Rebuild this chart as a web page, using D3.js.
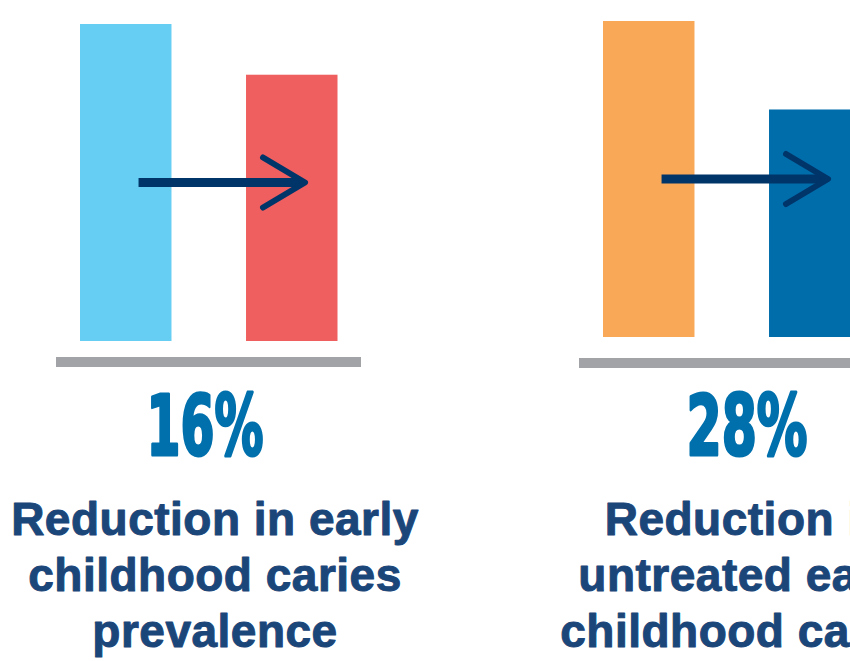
<!DOCTYPE html>
<html><head><meta charset="utf-8">
<script src="https://cdn.jsdelivr.net/npm/d3@7/dist/d3.min.js"></script>
<style>html,body{margin:0;padding:0;background:#fff;overflow:hidden}</style>
</head><body>
<svg id="chart" width="850" height="661"></svg>
<script>
// ---- data ----
const categories = ["before", "after"];
const panelNames = ["prevalence", "untreated"];
const beforeValues = [100, 100];
const afterValues = [84, 72];
const reductionLabels = ["16%", "28%"];
const labelLines = [
  ["Reduction in early", "childhood caries", "prevalence"],
  ["Reduction in", "untreated early", "childhood caries"]
];

// ---- styles / layout ----
const barColors = [["#66cef3", "#f05f5f"], ["#f9a857", "#006dab"]];
const layout = [
  {x: 56, top: 24, bottom: 341, baseY: 357, pctX: 205, pctW: 117, labelX: 215},
  {x: 579, top: 21, bottom: 337, baseY: 358, pctX: 747, pctW: 121, labelX: 747}
];
const baseWidth = 305;

const svg = d3.select("#chart");

panelNames.forEach((name, i) => {
  const L = layout[i];
  const g = svg.append("g").attr("transform", `translate(${L.x},0)`);
  const x = d3.scaleBand().domain(categories).range([24, 281.5]).paddingInner(0.449).paddingOuter(0);
  const y = d3.scaleLinear().domain([0, 100]).range([L.bottom, L.top]);
  const vals = [beforeValues[i], afterValues[i]];

  g.selectAll("rect.bar").data(categories).enter().append("rect")
    .attr("class", "bar")
    .attr("x", d => x(d))
    .attr("width", x.bandwidth())
    .attr("y", (d, j) => y(vals[j]))
    .attr("height", (d, j) => y(0) - y(vals[j]))
    .attr("fill", (d, j) => barColors[i][j]);

  // baseline
  g.append("rect").attr("x", 0).attr("y", L.baseY).attr("width", baseWidth).attr("height", 10)
    .attr("fill", "#a2a3a7");

  // arrow
  const ay = y(50);
  const x0 = x("before") + 0.64 * x.bandwidth();
  const x1 = x("after") + 0.645 * x.bandwidth();
  g.append("line").attr("x1", x0).attr("x2", x1 - 4).attr("y1", ay).attr("y2", ay)
    .attr("stroke", "#00356a").attr("stroke-width", 9);
  g.append("path")
    .attr("d", d3.line()([[x1 - 42, ay - 25], [x1, ay], [x1 - 42, ay + 25]]))
    .attr("fill", "none").attr("stroke", "#00356a").attr("stroke-width", 6)
    .attr("stroke-linecap", "round").attr("stroke-linejoin", "round");

  // percent
  svg.append("text")
    .attr("x", L.pctX).attr("y", 455)
    .attr("text-anchor", "middle")
    .attr("font-family", "'Liberation Sans Narrow','DejaVu Sans Condensed',Arial,sans-serif")
    .attr("font-weight", "bold")
    .attr("font-size", 84)
    .attr("textLength", L.pctW)
    .attr("lengthAdjust", "spacingAndGlyphs")
    .attr("fill", "#0070ad").attr("stroke", "#0070ad").attr("stroke-width", 3)
    .attr("stroke-linejoin", "round")
    .text(reductionLabels[i]);

  // label
  const t = svg.append("text")
    .attr("text-anchor", "middle")
    .attr("font-family", "'Liberation Sans',Arial,sans-serif")
    .attr("font-weight", "bold")
    .attr("font-size", 46)
    .attr("letter-spacing", 0.5)
    .attr("fill", "#1b4679").attr("stroke", "#1b4679").attr("stroke-width", 1)
    .attr("stroke-linejoin", "round");
  labelLines[i].forEach((line, k) => {
    t.append("tspan").attr("x", L.labelX).attr("y", 535 + k * 56).text(line);
  });
});
</script>
</body></html>
